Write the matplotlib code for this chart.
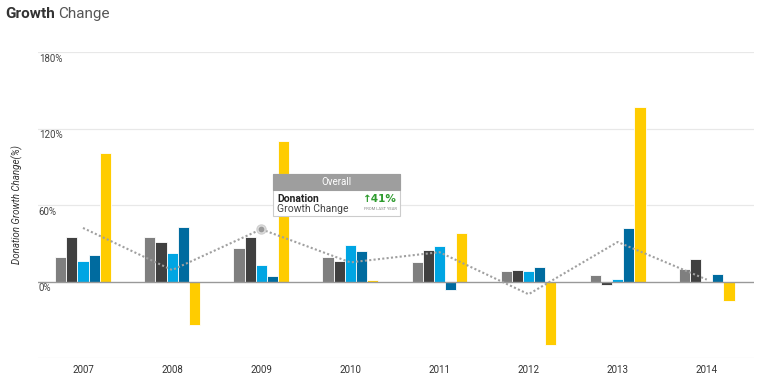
import matplotlib
matplotlib.use("Agg")
import matplotlib.pyplot as plt
import numpy as np
from matplotlib.patches import Rectangle

plt.rcParams['font.family'] = ['Roboto', 'DejaVu Sans']

years = ['2007', '2008', '2009', '2010', '2011', '2012', '2013', '2014']
series_gray = [19, 35, 26, 19, 15, 8, 5, 10]
series_dark = [35, 31, 35, 16, 25, 9, -3, 18]
series_light = [16, 22, 13, 29, 28, 8, 2, 0]
series_dblue = [21, 43, 4, 24, -7, 11, 42, 6]
series_yellow = [101, -34, 110, 1, 38, -50, 137, -15]
overall = [42, 9, 41, 15, 23, -10, 31, 1.5]
yticks = [0, 60, 120, 180]
ytick_labels = ['0%', '60%', '120%', '180%']

colors = ['#7f7f7f', '#404040', '#00a5e3', '#006b9f', '#ffcc00']
series = [series_gray, series_dark, series_light, series_dblue, series_yellow]

W, H = 768, 380
fig = plt.figure(figsize=(W / 100, H / 100), dpi=100)
ax = fig.add_axes([38 / W, 1 - 358 / H, (754 - 38) / W, (358 - 52) / H])

x = np.arange(len(years))
bw = 0.125
for i, (vals, c) in enumerate(zip(series, colors)):
    ax.bar(x + (i - 2) * bw, vals, width=bw, color=c, edgecolor='white',
           linewidth=0.6, zorder=3)

ax.plot(x, overall, color='#a0a0a0', linestyle=(0, (1.0, 1.1)), linewidth=1.5,
        zorder=4, dash_capstyle='butt')
ax.plot(x[2], overall[2], 'o', markersize=6.5, markerfacecolor='#e3e3e3',
        markeredgecolor='#d0d0d0', zorder=5)
ax.plot(x[2], overall[2], 'o', markersize=3.2, color='#9a9a9a', zorder=6)

ax.set_xlim(-0.505, 7.53)
ax.set_ylim(-60, 180)
for gy in [-60, 60, 120, 180]:
    ax.axhline(gy, color='#e8e8e8', linewidth=0.9, zorder=1)
ax.axhline(0, color='#999999', linewidth=1.0, zorder=3.5)

for s in ax.spines.values():
    s.set_visible(False)
ax.set_yticks([])
ax.set_xticks(x)
ax.set_xticklabels(years, fontsize=7, color='#333333')
ax.tick_params(axis='x', length=0, pad=5)

for v, lab in zip(yticks, ytick_labels):
    ax.annotate(lab, xy=(0, v), xycoords=('axes fraction', 'data'),
                xytext=(0.5, -1.2), textcoords='offset points',
                ha='left', va='top', fontsize=7, color='#444444')

fig.text(17 / W, 1 - 205 / H, 'Donation Growth Change(%)', rotation=90,
         fontsize=7, style='italic', color='#333333', ha='center', va='center')

fig.text(5 / W, 1 - 14 / H, 'Growth', fontsize=11, fontweight='bold',
         color='#333333', ha='left', va='center')
fig.text(58 / W, 1 - 14 / H, 'Change', fontsize=11, color='#555555',
         ha='left', va='center')

# tooltip overlay
def fx(px):
    return px / W

def fy(py):
    return 1 - py / H

tx0, tx1, ty0, ty1 = 273, 400, 174, 216
body = Rectangle((fx(tx0), fy(ty1)), fx(tx1) - fx(tx0), fy(ty0) - fy(ty1),
                 transform=fig.transFigure, facecolor='white',
                 edgecolor='#cccccc', linewidth=0.8, zorder=10)
fig.patches.append(body)
head = Rectangle((fx(tx0), fy(190)), fx(tx1) - fx(tx0), fy(ty0) - fy(190),
                 transform=fig.transFigure, facecolor='#9e9e9e',
                 edgecolor='#9e9e9e', linewidth=0.8, zorder=11)
fig.patches.append(head)
fig.text(fx(336), fy(182), 'Overall', fontsize=7, color='white',
         ha='center', va='center', zorder=12)
fig.text(fx(277), fy(198.5), 'Donation', fontsize=7.5, fontweight='bold',
         color='#222222', ha='left', va='center', zorder=12)
fig.text(fx(277), fy(208.5), 'Growth Change', fontsize=7.5, color='#444444',
         ha='left', va='center', zorder=12)
fig.text(fx(397), fy(198.5), '\u2191' + '41%', fontsize=7.5, fontweight='bold',
         color='#2e9b2e', ha='right', va='center', zorder=12,
         family=['DejaVu Sans'])
fig.text(fx(397), fy(209), 'FROM LAST YEAR', fontsize=3, color='#888888',
         ha='right', va='center', zorder=12)

fig.savefig('out.png', dpi=100)
